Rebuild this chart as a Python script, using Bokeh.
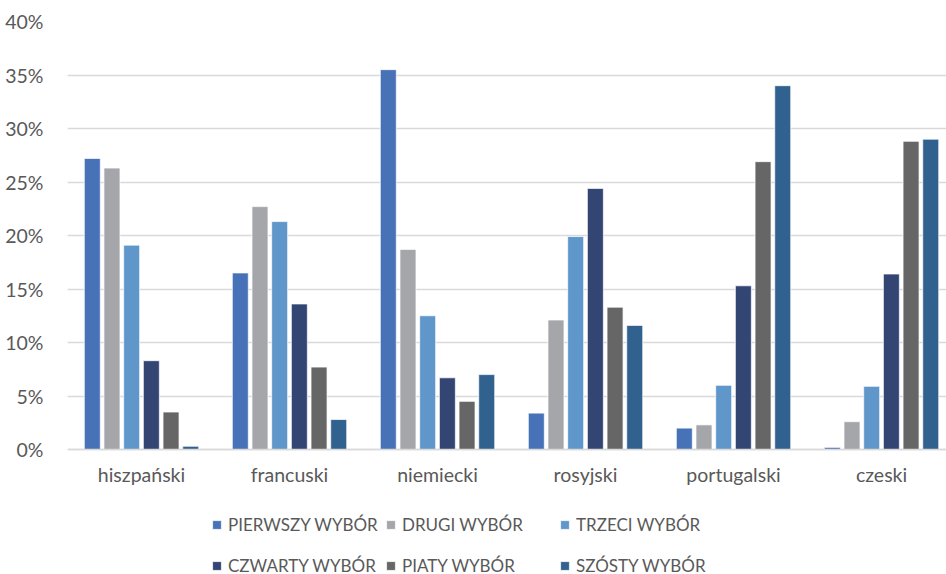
from bokeh.plotting import figure
from bokeh.models import (Range1d, FixedTicker, PrintfTickFormatter, Legend, LegendItem,
                          ColumnDataSource)
from bokeh.embed import file_html
from bokeh.resources import INLINE
import numpy as np

categories = ["hiszpański", "francuski", "niemiecki", "rosyjski", "portugalski", "czeski"]
series_names = ["PIERWSZY WYBÓR", "DRUGI WYBÓR", "TRZECI WYBÓR",
                "CZWARTY WYBÓR", "PIATY WYBÓR", "SZÓSTY WYBÓR"]
pierwszy = [27.2, 16.5, 35.5, 3.4, 2.0, 0.2]
drugi = [26.3, 22.7, 18.7, 12.1, 2.3, 2.6]
trzeci = [19.1, 21.3, 12.5, 19.9, 6.0, 5.9]
czwarty = [8.3, 13.6, 6.7, 24.4, 15.3, 16.4]
piaty = [3.5, 7.7, 4.5, 13.3, 26.9, 28.8]
szosty = [0.3, 2.8, 7.0, 11.6, 34.0, 29.0]
y_ticks = [0, 5, 10, 15, 20, 25, 30, 35, 40]

series = [pierwszy, drugi, trzeci, czwarty, piaty, szosty]
colors = ["#4872B8", "#A5A6AA", "#6097CB", "#324573", "#666667", "#31618F"]

FONT = "Lato"
FS = "19.5px"
W, H = 946, 574
TOP = 21
PX_PER_UNIT = 10.7          # 428 px for 40 %
frame_h = H - TOP
y_start = 40 - frame_h / PX_PER_UNIT   # room below 0 % for category labels + legend

p = figure(width=W, height=H, output_backend="svg", toolbar_location=None,
           x_range=Range1d(-0.5, 5.439), y_range=Range1d(y_start, 40),
           min_border_left=67, min_border_right=0, min_border_top=TOP, min_border_bottom=0)
p.outline_line_color = None
p.background_fill_color = "white"

idx = np.arange(len(categories))
step = 0.133
bw = 0.108
items = []
for i, (vals, name, col) in enumerate(zip(series, series_names, colors)):
    src = ColumnDataSource(dict(x=idx + (i - 2.5) * step, top=vals))
    r = p.vbar(x="x", top="top", bottom=0, width=bw, source=src, fill_color=col,
               line_color="white", line_alpha=0.7, line_width=1)
    items.append(LegendItem(label=name, renderers=[r]))

# legend grid is filled column by column (2 rows x 3 columns): reorder to read row-wise
legend_items = [items[0], items[3], items[1], items[4], items[2], items[5]]

p.yaxis.ticker = FixedTicker(ticks=y_ticks)
p.yaxis.formatter = PrintfTickFormatter(format="%d%%")
p.yaxis.axis_line_color = None
p.yaxis.major_tick_line_color = None
p.yaxis.minor_tick_line_color = None
p.yaxis.major_label_standoff = 18
p.yaxis.major_label_text_font = FONT
p.yaxis.major_label_text_font_size = FS
p.yaxis.major_label_text_color = "#595959"

p.xaxis.fixed_location = 0
p.xaxis.ticker = FixedTicker(ticks=list(range(len(categories))))
p.xaxis.major_label_overrides = {i: c for i, c in enumerate(categories)}
p.xaxis.axis_line_color = "#D9D9D9"
p.xaxis.axis_line_width = 1.5
p.xaxis.major_tick_line_color = None
p.xaxis.minor_tick_line_color = None
p.xaxis.major_label_standoff = 7
p.xaxis.major_label_text_font = FONT
p.xaxis.major_label_text_font_size = FS
p.xaxis.major_label_text_color = "#595959"

p.xgrid.grid_line_color = None
p.ygrid.grid_line_color = "#D9D9D9"
p.ygrid.grid_line_width = 1.5
p.ygrid.ticker = FixedTicker(ticks=y_ticks)

legend = Legend(items=legend_items, ncols=3, location=(144, -8),
                glyph_width=11, glyph_height=11, label_standoff=6,
                label_width=150, label_height=34, spacing=7,
                padding=0, margin=0, border_line_color=None,
                background_fill_alpha=0,
                label_text_font=FONT, label_text_font_size="17px",
                label_text_color="#595959")
p.add_layout(legend, "center")

open("out.html", "w").write(file_html(p, INLINE))
